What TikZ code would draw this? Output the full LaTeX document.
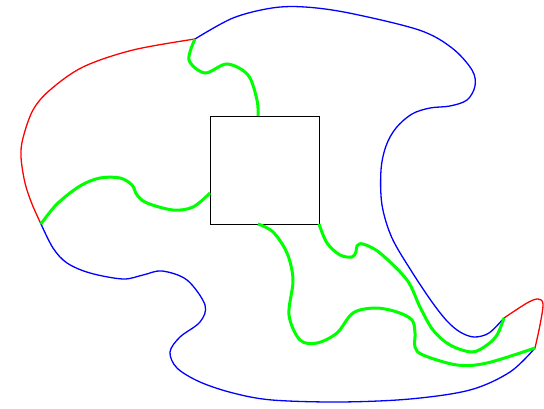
\documentclass[tikz,border=0pt]{standalone}
\begin{document}
\begin{tikzpicture}[x=1pt,y=-1pt,
  bluel/.style={draw={rgb,255:red,0;green,0;blue,255},line width=1.3pt},
  redl/.style={draw={rgb,255:red,255;green,0;blue,0},line width=1.3pt},
  greenl/.style={draw={rgb,255:red,0;green,255;blue,0},line width=3pt},
  sm/.style={smooth,tension=0.55}]
\useasboundingbox (0,0) rectangle (544,409);
\coordinate (A) at (195,39);
\coordinate (B) at (41,224);
\coordinate (C) at (504,318);
\coordinate (D) at (535,348);
\node[draw,line width=0.9pt,minimum width=109pt,minimum height=108pt,inner sep=0pt,anchor=north west] (sq) at (210,116) {};
\coordinate (T) at (258,116);
\coordinate (L) at (210,193);
\coordinate (Bm) at (258,224);
\coordinate (Br) at (319,224);
% red
\draw[redl] plot[sm] coordinates {(A) (133,50) (83,67) (50,90) (33,110) (23,138) (21,157) (25,183) (32,204) (B)};
\draw[redl] plot[sm] coordinates {(C) (527,303) (538,299) (543,304) (540,325) (D)};
% blue
\draw[bluel] plot[sm] coordinates {(A) (233,18) (272,8) (305,7) (349,13) (419,30) (452,48) (472,70) (475,86) (467,100) (450,106) (430,108) (412,114) (396,128) (386,146) (381,170) (382,205) (392,238) (412,272) (432,302) (447,321) (460,332) (474,337) (489,333) (C)};
\draw[bluel] plot[sm] coordinates {(D) (510,372) (470,390) (410,399) (340,402) (272,400) (233,393) (200,382) (177,368) (170,352) (180,337) (200,322) (205,305) (187,280) (162,271) (143,275) (123,279) (90,273) (67,263) (53,248) (B)};
% green
\draw[greenl] plot[sm] coordinates {(A) (189,60) (205,73) (227,64) (248,75) (257,100) (T)};
\draw[greenl] plot[sm] coordinates {(B) (57,204) (80,186) (100,178) (120,178) (132,185) (137,195) (147,203) (173,210) (193,207) (L)};
\draw[greenl] plot[sm] coordinates {(Bm) (273,232) (287,253) (293,280) (289,315) (300,340) (317,343) (337,333) (353,313) (375,308) (397,312) (412,320) (415,333) (415,347) (423,355) (457,365) (487,363) (D)};
\draw[greenl] plot[sm] coordinates {(Br) (327,243) (340,255) (352,257) (356,252) (357,246) (363,244) (380,253) (407,280) (420,307) (433,330) (450,345) (472,352) (487,345) (497,335) (C)};
\end{tikzpicture}
\end{document}
